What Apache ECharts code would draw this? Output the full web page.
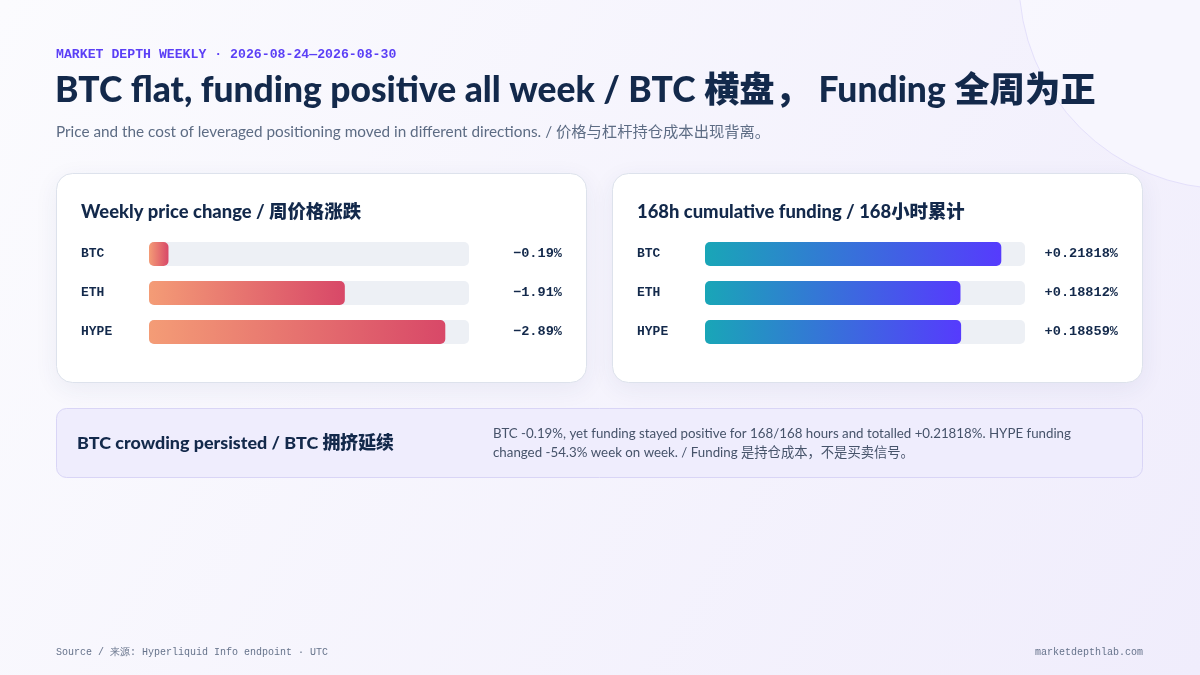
<!DOCTYPE html>
<html><head><meta charset="utf-8">
<script src="https://cdn.jsdelivr.net/npm/echarts@6/dist/echarts.min.js"></script>
<style>html,body{margin:0;padding:0;background:#f8f8fd}#c{width:1200px;height:675px}</style>
</head><body><div id="c"></div>
<script>
const assets = ['BTC', 'ETH', 'HYPE'];
const priceChange = [-0.19, -1.91, -2.89];
const funding = [0.21818, 0.18812, 0.18859];
const kicker = 'MARKET DEPTH WEEKLY · 2026-08-24—2026-08-30';
const titleText = 'BTC flat, funding positive all week / BTC 横盘， Funding 全周为正';
const subtitleText = 'Price and the cost of leveraged positioning moved in different directions. / 价格与杠杆持仓成本出现背离。';
const leftTitle = 'Weekly price change / 周价格涨跌';
const rightTitle = '168h cumulative funding / 168小时累计';
const calloutTitle = 'BTC crowding persisted / BTC 拥挤延续';
const calloutLines = ['BTC -0.19%, yet funding stayed positive for 168/168 hours and totalled +0.21818%. HYPE funding', 'changed -54.3% week on week. / Funding 是持仓成本，不是买卖信号。'];
const sourceText = 'Source / 来源: Hyperliquid Info endpoint · UTC';
const siteText = 'marketdepthlab.com';

const SANS = "Lato, 'Noto Sans CJK SC', sans-serif";
const MONO = "'Liberation Mono', 'Courier New', monospace";
const NAVY = '#13294b';

const chart = echarts.init(document.getElementById('c'));
const G = echarts.graphic;

function card(x, y, w, h) {
  return {type: 'rect', shape: {x, y, width: w, height: h, r: 16}, z: 1,
    style: {fill: '#ffffff', stroke: '#dde2ec', lineWidth: 1, shadowBlur: 24, shadowOffsetY: 6, shadowColor: 'rgba(40,50,110,0.07)'}};
}
function txt(x, y, text, font, fill, align, z) {
  return {type: 'text', x, y, z: z || 5, style: {text, font, fill, align: align || 'left', verticalAlign: 'middle'}};
}

const absPrice = priceChange.map(Math.abs);
const maxPrice = Math.max(...absPrice) * 1.08;
const maxFund = Math.max(...funding) * 1.08;

const warm = new G.LinearGradient(0, 0, 1, 0, [{offset: 0, color: '#f49c76'}, {offset: 1, color: '#d84868'}]);
const cool = new G.LinearGradient(0, 0, 1, 0, [{offset: 0, color: '#19a6b7'}, {offset: 1, color: '#563bfd'}]);

function fmtPrice(v) { return (v < 0 ? '−' : '+') + Math.abs(v).toFixed(2) + '%'; }
function fmtFund(v) { return (v < 0 ? '−' : '+') + v.toFixed(5) + '%'; }

const rowH = 39;
const gridTop = 254 - rowH / 2;
const gridH = rowH * assets.length;

const axisCommon = {axisLine: {show: false}, axisTick: {show: false}, splitLine: {show: false}, z: 6};
const nameLabel = {align: 'left', margin: 68, fontFamily: MONO, fontWeight: 'bold', fontSize: 13, color: NAVY};
const valLabel = {align: 'right', margin: 93, fontFamily: MONO, fontWeight: 'bold', fontSize: 13.6, color: NAVY};

option = {
  animation: false,
  backgroundColor: new G.LinearGradient(0, 0, 1, 1, [{offset: 0, color: '#fbfbfe'}, {offset: 1, color: '#f0edfc'}]),
  graphic: [
    {type: 'circle', shape: {cx: 1228, cy: -20, r: 209}, z: 0, style: {fill: 'rgba(250,250,255,0.6)', stroke: '#e4e0fb', lineWidth: 1}},
    txt(56, 55, kicker, 'bold 13.2px ' + MONO, '#5b3ff6'),
    txt(55, 90.5, titleText, '900 35.4px ' + SANS, NAVY),
    txt(56, 132, subtitleText, '15.3px ' + SANS, '#5d6c84'),
    card(56.5, 173.5, 530, 209),
    card(612.5, 173.5, 530, 209),
    txt(81, 212, leftTitle, '900 18.4px ' + SANS, NAVY),
    txt(637, 212, rightTitle, '900 18.4px ' + SANS, NAVY),
    {type: 'rect', shape: {x: 56.5, y: 408.5, width: 1086, height: 69, r: 10}, z: 1, style: {fill: '#efedfd', stroke: '#d9d5f6', lineWidth: 1}},
    txt(77, 443, calloutTitle, '900 17.9px ' + SANS, NAVY),
    txt(493, 434, calloutLines[0], '13.3px ' + SANS, '#46536a'),
    txt(493, 453, calloutLines[1], '13.3px ' + SANS, '#46536a'),
    txt(56, 652, sourceText, '10px ' + MONO, '#66738b'),
    txt(1143, 652, siteText, '10px ' + MONO, '#66738b', 'right')
  ],
  grid: [
    {left: 149, width: 320, top: gridTop, height: gridH, z: 3},
    {left: 705, width: 320, top: gridTop, height: gridH, z: 3}
  ],
  xAxis: [
    {gridIndex: 0, type: 'value', min: 0, max: maxPrice, show: false},
    {gridIndex: 1, type: 'value', min: 0, max: maxFund, show: false}
  ],
  yAxis: [
    Object.assign({gridIndex: 0, type: 'category', data: assets, inverse: true, axisLabel: nameLabel}, axisCommon),
    Object.assign({gridIndex: 0, type: 'category', data: priceChange.map(fmtPrice), inverse: true, position: 'right', axisLabel: valLabel}, axisCommon),
    Object.assign({gridIndex: 1, type: 'category', data: assets, inverse: true, axisLabel: nameLabel}, axisCommon),
    Object.assign({gridIndex: 1, type: 'category', data: funding.map(fmtFund), inverse: true, position: 'right', axisLabel: valLabel}, axisCommon)
  ],
  series: [
    {type: 'bar', xAxisIndex: 0, yAxisIndex: 0, data: absPrice, barWidth: 24, z: 4,
      showBackground: true, backgroundStyle: {color: '#edf0f5', borderRadius: 5},
      itemStyle: {color: warm, borderRadius: 5}},
    {type: 'bar', xAxisIndex: 1, yAxisIndex: 2, data: funding, barWidth: 24, z: 4,
      showBackground: true, backgroundStyle: {color: '#edf0f5', borderRadius: 5},
      itemStyle: {color: cool, borderRadius: 5}}
  ]
};
chart.setOption(option);
</script></body></html>
